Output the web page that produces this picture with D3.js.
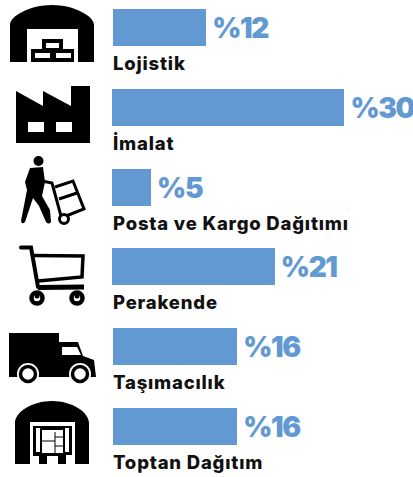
<!DOCTYPE html>
<html><head><meta charset="utf-8">
<script src="https://cdn.jsdelivr.net/npm/d3@7/dist/d3.min.js"></script>
<style>html,body{margin:0;padding:0;background:#fff}svg{display:block}</style>
</head><body><div id="c"></div>
<script>
const categories = ["Lojistik","İmalat","Posta ve Kargo Dağıtımı","Perakende","Taşımacılık","Toptan Dağıtım"];
const values = [12,30,5,21,16,16];
const valueLabels = ["%12","%30","%5","%21","%16","%16"];
const barLeft = [113,112,112,112,113,113];

const W=413,H=477,BLUE="#6399d3";
const svg=d3.select("#c").append("svg").attr("width",W).attr("height",H).attr("viewBox",[0,0,W,H]);
const xLen=d3.scaleLinear().domain([0,30]).range([0,232]);
const y=d3.scaleBand().domain(d3.range(categories.length)).range([9,9+79.8*6]).paddingInner(0).paddingOuter(0);
const barH=37;

const rows=svg.append("g").selectAll("g").data(categories).join("g");
rows.append("rect")
  .attr("x",(d,i)=>barLeft[i]).attr("y",(d,i)=>Math.round(y(i)))
  .attr("width",(d,i)=>Math.ceil(xLen(values[i]))).attr("height",barH).attr("fill",BLUE);
rows.append("text")
  .attr("x",(d,i)=>barLeft[i]+xLen(values[i])+6.4).attr("y",(d,i)=>Math.round(y(i))+29)
  .attr("font-family","Inter, 'Open Sans', sans-serif").attr("font-weight",900).attr("font-size",28)
  .attr("letter-spacing",-1.4).attr("fill",BLUE).text((d,i)=>valueLabels[i]);
rows.append("text")
  .attr("x",113).attr("y",(d,i)=>Math.round(y(i))+60.5)
  .attr("font-family","Inter, 'Open Sans', sans-serif").attr("font-weight",800).attr("font-size",18.5)
  .attr("letter-spacing",0.8).attr("fill","#111").text(d=>d);

const ic=svg.append("g").attr("class","icons");
// warehouse 1
ic.append("path").attr("fill-rule","evenodd").attr("d","M10,62V25C10,16 30,5 52,5C74,5 94,16 94,25V62H78V29H27V62Z");
ic.append("path").attr("fill-rule","evenodd").attr("d","M42,39H63V49H74V62H31V49H42ZM46,43V48H59V43ZM35,53V58H50V53ZM56,53V58H71V53Z");
// factory
ic.append("path").attr("fill-rule","evenodd").attr("d","M16,91L43,106V91L71,106V86H90V143H16ZM28,122V132H44V122ZM56,122V132H72V122Z");
// person with hand truck
ic.append("circle").attr("cx",38.5).attr("cy",161).attr("r",5);
ic.append("path").attr("d","M30,168L43,167L45,182L42,196L50,210L51,222Q49,225 46,222L39,206L33,198L25,222Q22,225 21,221L27,190L25,182Z");
ic.append("path").attr("fill","none").attr("stroke","#000").attr("stroke-width",3).attr("d","M42,181L52,183L61,216");
ic.append("path").attr("fill","none").attr("stroke","#000").attr("stroke-width",3).attr("d","M55,187L73,181L84,209L66,216M59,199L77,193");
ic.append("circle").attr("cx",64).attr("cy",219).attr("r",4.5).attr("fill","#fff").attr("stroke","#000").attr("stroke-width",3);
// cart
ic.append("path").attr("fill","none").attr("stroke","#000").attr("stroke-width",4).attr("stroke-linecap","round").attr("d","M21,247.5H31L38,287");
ic.append("path").attr("fill","none").attr("stroke","#000").attr("stroke-width",3.5).attr("d","M34,255.5L83,256L82,277L38,281");
ic.append("path").attr("fill","none").attr("stroke","#000").attr("stroke-width",5).attr("d","M38,287.5L84,287");
ic.selectAll(".wh").data([37,77]).join("circle").attr("cx",d=>d).attr("cy",298).attr("r",5.5).attr("fill","#fff").attr("stroke","#000").attr("stroke-width",4.5);
ic.selectAll(".wc").data([37,77]).join("circle").attr("cx",d=>d).attr("cy",296).attr("r",2.5).attr("fill","#000");
// truck
ic.append("path").attr("fill-rule","evenodd").attr("d","M9,333H59V342H78L83,356L94,360L96,377H9ZM62,347V355H81L77,347Z");
ic.selectAll(".tw2").data([28,80]).join("circle").attr("cx",d=>d).attr("cy",374).attr("r",11).attr("fill","#fff");
ic.selectAll(".tw").data([28,80]).join("circle").attr("cx",d=>d).attr("cy",374).attr("r",7.5).attr("fill","#fff").attr("stroke","#000").attr("stroke-width",3.5);
// warehouse 2
ic.append("path").attr("fill-rule","evenodd").attr("d","M15,464V423C15,412 32,401 52,401C72,401 89,412 89,423V464H75V422H30V464Z");
ic.append("path").attr("fill-rule","evenodd").attr("d","M33,426H72V455H66V464H58V456H47V464H39V456H33ZM36,428V452H40V428ZM42,430V453H63V430ZM65,428V452H69V428Z");
ic.append("path").attr("fill","none").attr("stroke","#000").attr("stroke-width",1).attr("d","M42,441H55M55,432V453M55,437H63M55,446H63");
</script></body></html>
